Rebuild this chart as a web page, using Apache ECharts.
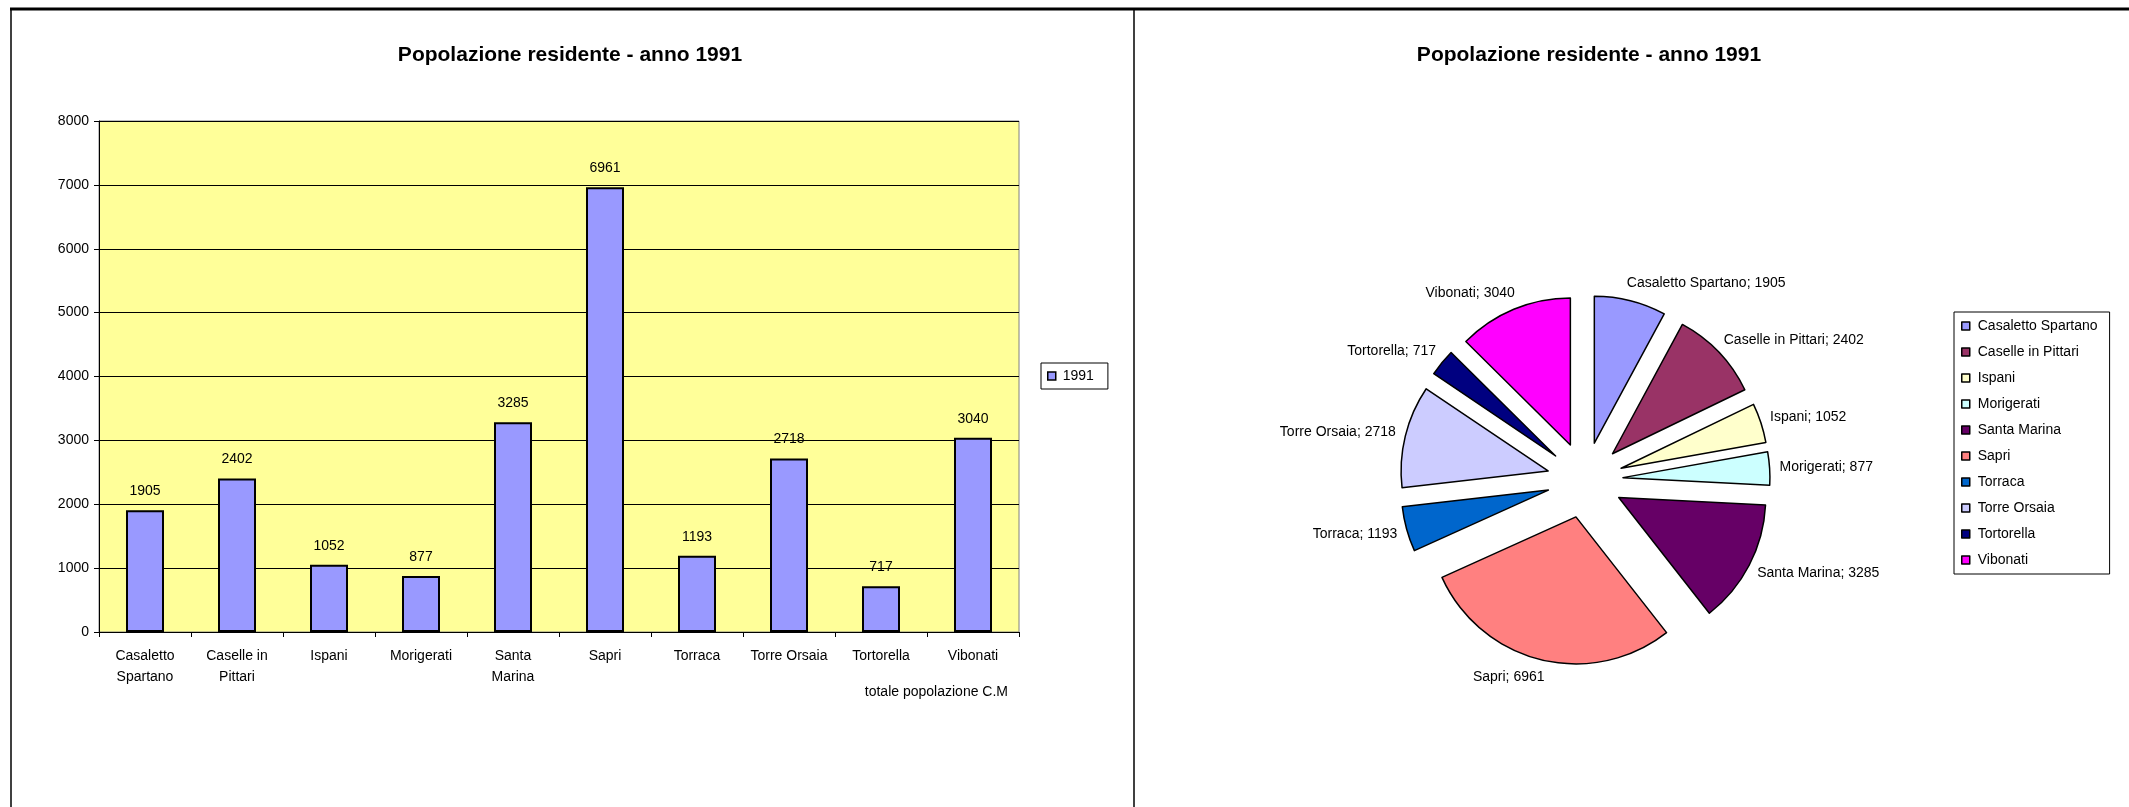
<!DOCTYPE html>
<html>
<head>
<meta charset="utf-8">
<script src="https://cdn.jsdelivr.net/npm/echarts@6/dist/echarts.min.js"></script>
<style>
html,body{margin:0;padding:0;background:#fff;}
#chart{width:2129px;height:807px;}
</style>
</head>
<body>
<div id="chart"></div>
<script>
const chartTitle = 'Popolazione residente - anno 1991';
const seriesName = '1991';
const categories = ['Casaletto Spartano','Caselle in Pittari','Ispani','Morigerati','Santa Marina','Sapri','Torraca','Torre Orsaia','Tortorella','Vibonati'];
const axisLabels = ['Casaletto\nSpartano','Caselle in\nPittari','Ispani','Morigerati','Santa\nMarina','Sapri','Torraca','Torre Orsaia','Tortorella','Vibonati'];
const values = [1905, 2402, 1052, 877, 3285, 6961, 1193, 2718, 717, 3040];
const pieColors = ['#9999FF','#993366','#FFFFCC','#CCFFFF','#660066','#FF8080','#0066CC','#CCCCFF','#000080','#FF00FF'];
const xAxisTitle = 'totale popolazione C.M';
const yMin = 0, yMax = 8000, yStep = 1000;

const FONT = '"Liberation Sans", Arial, sans-serif';
const chart = echarts.init(document.getElementById('chart'), null, {renderer: 'canvas'});

const pieData = categories.map((c, i) => ({
  name: c, value: values[i], selected: true,
  itemStyle: {color: pieColors[i]}
}));

const option = {
  animation: false,
  backgroundColor: '#ffffff',
  textStyle: {fontFamily: FONT},
  graphic: [
    {type: 'line', shape: {x1: 10, y1: 9, x2: 2129, y2: 9}, style: {stroke: '#000', lineWidth: 3}},
    {type: 'line', shape: {x1: 11, y1: 9, x2: 11, y2: 807}, style: {stroke: '#000', lineWidth: 1.5}},
    {type: 'line', shape: {x1: 1134, y1: 9, x2: 1134, y2: 807}, style: {stroke: '#000', lineWidth: 1.5}},
    {type: 'text', x: 570, y: 55, style: {text: chartTitle, fill: '#000', font: 'bold 21px ' + FONT, textAlign: 'center', textVerticalAlign: 'middle'}},
    {type: 'text', x: 1589, y: 55, style: {text: chartTitle, fill: '#000', font: 'bold 21px ' + FONT, textAlign: 'center', textVerticalAlign: 'middle'}},
    {type: 'text', x: 1008, y: 692, style: {text: xAxisTitle, fill: '#000', font: '14px ' + FONT, textAlign: 'right', textVerticalAlign: 'middle'}}
  ],
  legend: [
    {
      data: [seriesName],
      left: 1041, top: 363,
      orient: 'vertical',
      padding: [6, 14, 6, 6],
      itemWidth: 8, itemHeight: 8, itemGap: 5,
      borderColor: '#000', borderWidth: 1,
      icon: 'rect',
      itemStyle: {borderColor: '#000', borderWidth: 1.5},
      textStyle: {fontSize: 14, color: '#000', fontFamily: FONT, padding: [0, 0, 0, 2]},
      selectedMode: false
    },
    {
      data: categories,
      left: 1954, top: 312,
      orient: 'vertical',
      padding: [7, 12, 7, 7],
      itemWidth: 8, itemHeight: 8, itemGap: 12,
      borderColor: '#000', borderWidth: 1,
      icon: 'rect',
      itemStyle: {borderColor: '#000', borderWidth: 1.5},
      textStyle: {fontSize: 14, color: '#000', fontFamily: FONT, padding: [0, 0, 0, 3]},
      selectedMode: false
    }
  ],
  grid: {
    left: 99, top: 121, width: 920, height: 511,
    show: true, backgroundColor: '#FFFF99', borderColor: '#808080', borderWidth: 1
  },
  xAxis: {
    type: 'category',
    data: axisLabels,
    axisLine: {lineStyle: {color: '#000', width: 1}},
    axisTick: {show: true, length: 5, lineStyle: {color: '#000'}},
    axisLabel: {interval: 0, color: '#000', fontSize: 14, margin: 14, lineHeight: 21, fontFamily: FONT}
  },
  yAxis: {
    type: 'value',
    min: yMin, max: yMax, interval: yStep,
    axisLine: {show: true, lineStyle: {color: '#000', width: 1}},
    axisTick: {show: true, length: 5, lineStyle: {color: '#000'}},
    axisLabel: {color: '#000', fontSize: 14, margin: 10, fontFamily: FONT, formatter: v => String(v)},
    splitLine: {show: true, lineStyle: {color: '#000', width: 1}}
  },
  series: [
    {
      name: seriesName,
      type: 'bar',
      data: values,
      barWidth: 38,
      itemStyle: {color: '#9999FF', borderColor: '#000', borderWidth: 2},
      label: {show: true, position: 'top', distance: 12, color: '#000', fontSize: 14, fontFamily: FONT}
    },
    {
      name: 'pie',
      type: 'pie',
      center: [1585, 480],
      radius: 147,
      startAngle: 90,
      clockwise: true,
      selectedMode: 'multiple',
      selectedOffset: 38,
      avoidLabelOverlap: false,
      data: pieData,
      itemStyle: {borderColor: '#000', borderWidth: 1.5},
      select: {itemStyle: {borderColor: '#000', borderWidth: 1.5}},
      emphasis: {disabled: true},
      label: {show: true, position: 'outside', formatter: '{b}; {c}', color: '#000', fontSize: 14, fontFamily: FONT, distanceToLabelLine: 0},
      labelLine: {show: false, length: 18, length2: 0},
      labelLayout: function (p) {
        return {dx: p.align === 'right' ? 8 : -8};
      }
    }
  ]
};
chart.setOption(option);
</script>
</body>
</html>
